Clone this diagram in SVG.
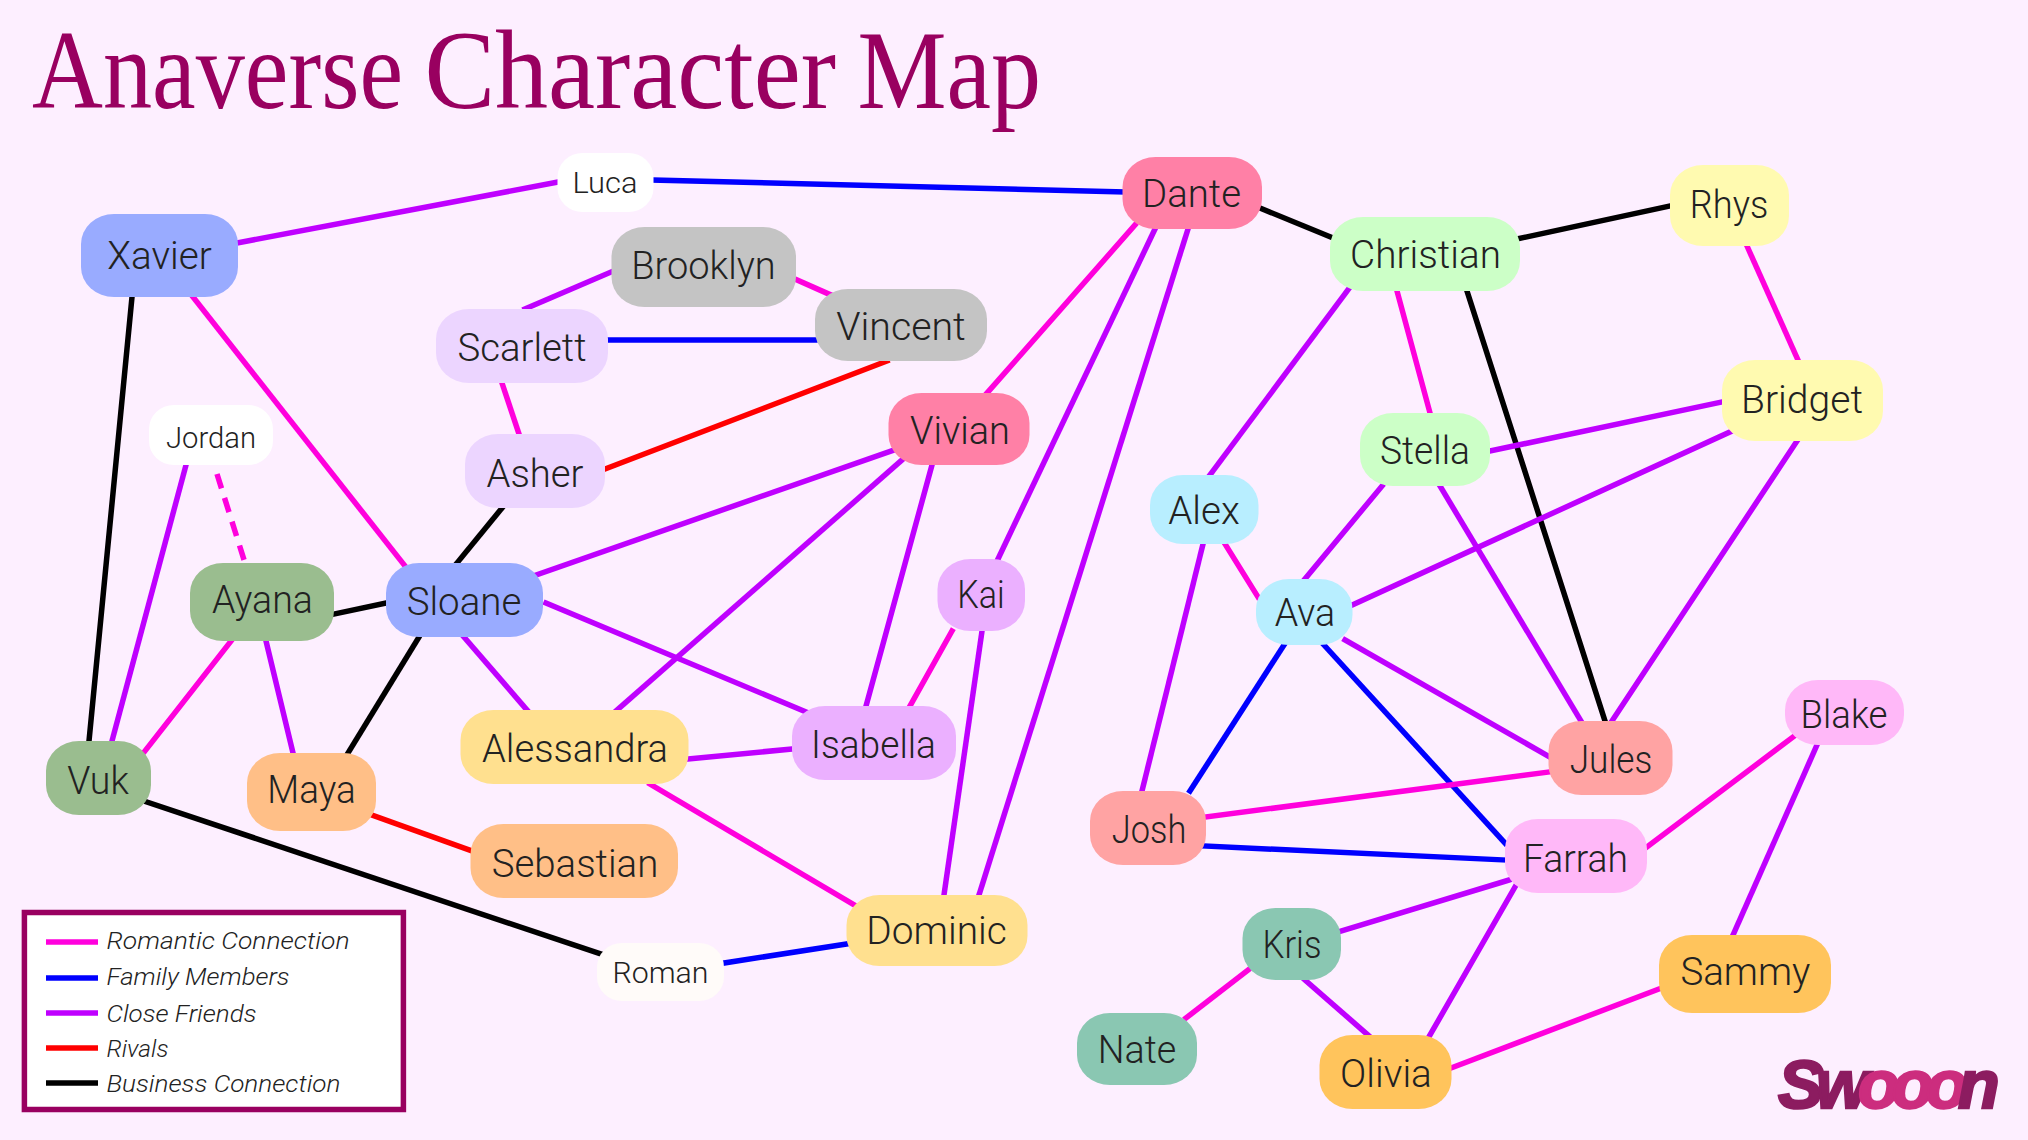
<svg xmlns="http://www.w3.org/2000/svg" width="2028" height="1140" viewBox="0 0 2028 1140">
<style>
.bg{fill:#fdefff}
#connectors line{stroke-width:5.5;stroke-linecap:square;fill:none}
.rom{stroke:#ff00dd}.fam{stroke:#0000ff}.fri{stroke:#bf00ff}.riv{stroke:#ff0000}.bus{stroke:#000000}
.n rect{rx:33px;ry:30px}
.n text,.sm text{font-family:Roboto,"Liberation Sans",sans-serif;font-weight:300;font-size:38px;fill:#222;text-anchor:middle;transform:translateY(1px)}
.sm rect{rx:25px;ry:24px}
.sm text{font-size:30px}
.legend text{font-family:Roboto,"Liberation Sans",sans-serif;font-weight:300;font-style:italic;font-size:24px;fill:#222}
.legend line{stroke-width:5.5}
.title{font-family:"Liberation Serif",serif;font-size:113px;fill:#990060}
.logo{font-family:"Liberation Sans",sans-serif;font-weight:700;font-style:italic;font-size:68px;stroke-width:2.5}
</style>
<rect class="bg" width="2028" height="1140"/>
<text class="title" y="108"><tspan x="32" textLength="371" lengthAdjust="spacingAndGlyphs">Anaverse</tspan> <tspan x="424.5" textLength="411.5" lengthAdjust="spacingAndGlyphs">Character</tspan> <tspan x="857.5" textLength="183.5" lengthAdjust="spacingAndGlyphs">Map</tspan></text>
<g id="connectors">
<line class="fri" x1="237" y1="243" x2="558" y2="182"/>
<line class="fam" x1="653" y1="180" x2="1123" y2="192"/>
<line class="bus" x1="132" y1="297" x2="89" y2="741"/>
<line class="rom" x1="193" y1="297" x2="405" y2="566"/>
<line class="fri" x1="611" y1="272" x2="525" y2="309"/>
<line class="rom" x1="795" y1="279" x2="831" y2="295"/>
<line class="fam" x1="608" y1="340" x2="815" y2="340"/>
<line class="rom" x1="502" y1="383" x2="519" y2="434"/>
<line class="riv" x1="605" y1="469" x2="887" y2="361"/>
<line class="bus" x1="502" y1="508" x2="457" y2="563"/>
<line class="fri" x1="536" y1="575" x2="894" y2="450"/>
<line class="fri" x1="546" y1="603" x2="806" y2="712"/>
<line class="fri" x1="464" y1="637" x2="527" y2="710"/>
<line class="bus" x1="419" y1="637" x2="348" y2="753"/>
<line class="bus" x1="386" y1="603" x2="334" y2="614"/>
<line class="rom" x1="231" y1="641" x2="145" y2="751"/>
<line class="fri" x1="266" y1="641" x2="293" y2="753"/>
<line class="fri" x1="186" y1="465" x2="112" y2="741"/>
<line class="rom" x1="217" y1="474" x2="245" y2="563" style="stroke-dasharray:15 10;stroke-linecap:butt"/>
<line class="bus" x1="147" y1="802" x2="601" y2="954"/>
<line class="fam" x1="724" y1="963" x2="847" y2="944"/>
<line class="riv" x1="372" y1="815" x2="472" y2="851"/>
<line class="fri" x1="688" y1="759" x2="792" y2="749"/>
<line class="rom" x1="650" y1="784" x2="856" y2="906"/>
<line class="fri" x1="617" y1="710" x2="902" y2="460"/>
<line class="fri" x1="932" y1="465" x2="866" y2="706"/>
<line class="rom" x1="952" y1="631" x2="910" y2="706"/>
<line class="fri" x1="982" y1="631" x2="944" y2="895"/>
<line class="rom" x1="1135" y1="225" x2="987" y2="393"/>
<line class="fri" x1="1155" y1="229" x2="998" y2="559"/>
<line class="fri" x1="1188" y1="229" x2="979" y2="895"/>
<line class="bus" x1="1260" y1="208" x2="1333" y2="238"/>
<line class="bus" x1="1517" y1="239" x2="1670" y2="206"/>
<line class="fri" x1="1350" y1="287" x2="1210" y2="475"/>
<line class="rom" x1="1397" y1="291" x2="1430" y2="413"/>
<line class="bus" x1="1467" y1="291" x2="1605" y2="721"/>
<line class="rom" x1="1747" y1="246" x2="1798" y2="360"/>
<line class="fri" x1="1490" y1="451" x2="1722" y2="402"/>
<line class="fri" x1="1730" y1="432" x2="1352" y2="605"/>
<line class="fri" x1="1797" y1="441" x2="1612" y2="721"/>
<line class="fri" x1="1382" y1="486" x2="1305" y2="579"/>
<line class="fri" x1="1440" y1="486" x2="1581" y2="721"/>
<line class="rom" x1="1225" y1="544" x2="1258" y2="597"/>
<line class="fri" x1="1203" y1="544" x2="1142" y2="791"/>
<line class="fam" x1="1284" y1="645" x2="1190" y2="791"/>
<line class="fam" x1="1324" y1="645" x2="1505" y2="843"/>
<line class="fri" x1="1345" y1="640" x2="1548" y2="756"/>
<line class="rom" x1="1206" y1="817" x2="1549" y2="772"/>
<line class="fam" x1="1204" y1="846" x2="1505" y2="860"/>
<line class="rom" x1="1647" y1="847" x2="1793" y2="737"/>
<line class="fri" x1="1817" y1="745" x2="1733" y2="935"/>
<line class="fri" x1="1509" y1="880" x2="1341" y2="931"/>
<line class="fri" x1="1515" y1="887" x2="1430" y2="1035"/>
<line class="rom" x1="1248" y1="970" x2="1186" y2="1018"/>
<line class="fri" x1="1305" y1="980" x2="1368" y2="1035"/>
<line class="rom" x1="1451" y1="1068" x2="1659" y2="989"/>
</g>
<g id="xavier" class="n"><rect x="81" y="214" width="157" height="83" fill="#99abff"/><text x="159.5" y="268" textLength="104.5" lengthAdjust="spacingAndGlyphs">Xavier</text></g>
<g id="luca" class="sm"><rect x="557.5" y="153" width="96" height="59" fill="#ffffff"/><text x="605" y="192" textLength="65" lengthAdjust="spacingAndGlyphs">Luca</text></g>
<g id="brooklyn" class="n"><rect x="611.5" y="227" width="184.5" height="80" fill="#c4c4c4"/><text x="703.5" y="278" textLength="144.5" lengthAdjust="spacingAndGlyphs">Brooklyn</text></g>
<g id="vincent" class="n"><rect x="815" y="289" width="172" height="72" fill="#c4c4c4"/><text x="901" y="339" textLength="129.5" lengthAdjust="spacingAndGlyphs">Vincent</text></g>
<g id="scarlett" class="n"><rect x="436" y="309" width="172" height="74" fill="#ecd5ff"/><text x="522" y="360" textLength="129" lengthAdjust="spacingAndGlyphs">Scarlett</text></g>
<g id="asher" class="n"><rect x="465" y="434" width="140" height="74" fill="#ecd5ff"/><text x="535" y="486" textLength="97" lengthAdjust="spacingAndGlyphs">Asher</text></g>
<g id="vivian" class="n"><rect x="888.5" y="393" width="141" height="72" fill="#ff80a6"/><text x="960" y="443" textLength="100" lengthAdjust="spacingAndGlyphs">Vivian</text></g>
<g id="sloane" class="n"><rect x="386" y="563" width="157" height="74" fill="#99abff"/><text x="464" y="614" textLength="114.7" lengthAdjust="spacingAndGlyphs">Sloane</text></g>
<g id="kai" class="n"><rect x="937.5" y="559" width="87.5" height="72" fill="#ebb0ff"/><text x="981" y="607" textLength="47.5" lengthAdjust="spacingAndGlyphs">Kai</text></g>
<g id="jordan" class="sm"><rect x="149" y="405" width="124" height="60" fill="#ffffff"/><text x="211" y="447" textLength="90" lengthAdjust="spacingAndGlyphs">Jordan</text></g>
<g id="ayana" class="n"><rect x="190" y="563" width="144" height="78" fill="#9abd8f"/><text x="262.5" y="612" textLength="101" lengthAdjust="spacingAndGlyphs">Ayana</text></g>
<g id="vuk" class="n"><rect x="46" y="741" width="105" height="74" fill="#9abd8f"/><text x="98" y="793" textLength="61.6" lengthAdjust="spacingAndGlyphs">Vuk</text></g>
<g id="maya" class="n"><rect x="247" y="753" width="129" height="78" fill="#ffbf87"/><text x="311.5" y="802" textLength="88.4" lengthAdjust="spacingAndGlyphs">Maya</text></g>
<g id="alessandra" class="n"><rect x="460.5" y="710" width="228" height="74" fill="#ffe08f"/><text x="575" y="761" textLength="186" lengthAdjust="spacingAndGlyphs">Alessandra</text></g>
<g id="isabella" class="n"><rect x="792" y="706" width="164" height="74" fill="#ebb0ff"/><text x="873.5" y="757" textLength="125" lengthAdjust="spacingAndGlyphs">Isabella</text></g>
<g id="sebastian" class="n"><rect x="470.5" y="824" width="207.5" height="74" fill="#ffbf87"/><text x="575" y="876" textLength="166.5" lengthAdjust="spacingAndGlyphs">Sebastian</text></g>
<g id="roman" class="sm"><rect x="597" y="943" width="127" height="58" fill="#fffbf9"/><text x="660.5" y="982" textLength="96" lengthAdjust="spacingAndGlyphs">Roman</text></g>
<g id="dominic" class="n"><rect x="846.5" y="895" width="181" height="71" fill="#ffe08f"/><text x="936.5" y="943" textLength="140.5" lengthAdjust="spacingAndGlyphs">Dominic</text></g>
<g id="dante" class="n"><rect x="1122.5" y="157" width="139.5" height="72" fill="#ff80a6"/><text x="1191.5" y="206" textLength="99" lengthAdjust="spacingAndGlyphs">Dante</text></g>
<g id="christian" class="n"><rect x="1330" y="217" width="190" height="74" fill="#ccffc7"/><text x="1425.5" y="267" textLength="151" lengthAdjust="spacingAndGlyphs">Christian</text></g>
<g id="rhys" class="n"><rect x="1670" y="165" width="119" height="81" fill="#fffab0"/><text x="1729" y="217" textLength="78.5" lengthAdjust="spacingAndGlyphs">Rhys</text></g>
<g id="bridget" class="n"><rect x="1722" y="360" width="161" height="81" fill="#fffab0"/><text x="1802" y="412" textLength="122" lengthAdjust="spacingAndGlyphs">Bridget</text></g>
<g id="stella" class="n"><rect x="1360" y="413" width="130" height="73" fill="#ccffc7"/><text x="1425" y="463" textLength="90" lengthAdjust="spacingAndGlyphs">Stella</text></g>
<g id="alex" class="n"><rect x="1150" y="475" width="108.5" height="69" fill="#b8eeff"/><text x="1204" y="523" textLength="71.5" lengthAdjust="spacingAndGlyphs">Alex</text></g>
<g id="ava" class="n"><rect x="1256" y="579" width="96.5" height="66" fill="#b8eeff"/><text x="1305" y="625" textLength="60.5" lengthAdjust="spacingAndGlyphs">Ava</text></g>
<g id="jules" class="n"><rect x="1548.5" y="721" width="124" height="74" fill="#ffa3a3"/><text x="1611" y="772" textLength="82.7" lengthAdjust="spacingAndGlyphs">Jules</text></g>
<g id="blake" class="n"><rect x="1785" y="680" width="119" height="65" fill="#ffb8f8"/><text x="1844" y="727" textLength="87" lengthAdjust="spacingAndGlyphs">Blake</text></g>
<g id="josh" class="n"><rect x="1090" y="791" width="116" height="74" fill="#ffa3a3"/><text x="1149" y="842" textLength="74.6" lengthAdjust="spacingAndGlyphs">Josh</text></g>
<g id="farrah" class="n"><rect x="1505" y="819" width="142" height="74" fill="#ffb8f8"/><text x="1575.5" y="871" textLength="105" lengthAdjust="spacingAndGlyphs">Farrah</text></g>
<g id="kris" class="n"><rect x="1242.5" y="908" width="98.5" height="72" fill="#8ac7b2"/><text x="1292" y="957" textLength="59" lengthAdjust="spacingAndGlyphs">Kris</text></g>
<g id="sammy" class="n"><rect x="1659" y="935" width="172" height="78" fill="#ffc45c"/><text x="1745.4" y="984" textLength="130" lengthAdjust="spacingAndGlyphs">Sammy</text></g>
<g id="nate" class="n"><rect x="1077" y="1013" width="120" height="72" fill="#8ac7b2"/><text x="1137" y="1062" textLength="78.6" lengthAdjust="spacingAndGlyphs">Nate</text></g>
<g id="olivia" class="n"><rect x="1319.5" y="1035" width="132" height="74" fill="#ffc45c"/><text x="1386" y="1086" textLength="91.8" lengthAdjust="spacingAndGlyphs">Olivia</text></g>
<g id="legend" class="legend">
<rect x="24.4" y="912.5" width="379" height="197" fill="#ffffff" stroke="#990060" stroke-width="5.5"/>
<line class="rom" x1="46" y1="942" x2="98" y2="942"/><text x="106.5" y="949" textLength="243" lengthAdjust="spacingAndGlyphs">Romantic Connection</text>
<line class="fam" x1="46" y1="978" x2="98" y2="978"/><text x="106.5" y="985" textLength="183" lengthAdjust="spacingAndGlyphs">Family Members</text>
<line class="fri" x1="46" y1="1013" x2="98" y2="1013"/><text x="106.5" y="1022" textLength="150" lengthAdjust="spacingAndGlyphs">Close Friends</text>
<line class="riv" x1="46" y1="1048" x2="98" y2="1048"/><text x="106.5" y="1057" textLength="62" lengthAdjust="spacingAndGlyphs">Rivals</text>
<line class="bus" x1="46" y1="1083" x2="98" y2="1083"/><text x="106.5" y="1092" textLength="234" lengthAdjust="spacingAndGlyphs">Business Connection</text>
</g>
<text id="logo" class="logo" y="1108"><tspan x="1778 1816" fill="#8c1c60" stroke="#8c1c60">Sw</tspan><tspan x="1858 1892 1926" fill="#cc2d7e" stroke="#cc2d7e">ooo</tspan><tspan x="1958" fill="#8c1c60" stroke="#8c1c60">n</tspan></text>
</svg>
